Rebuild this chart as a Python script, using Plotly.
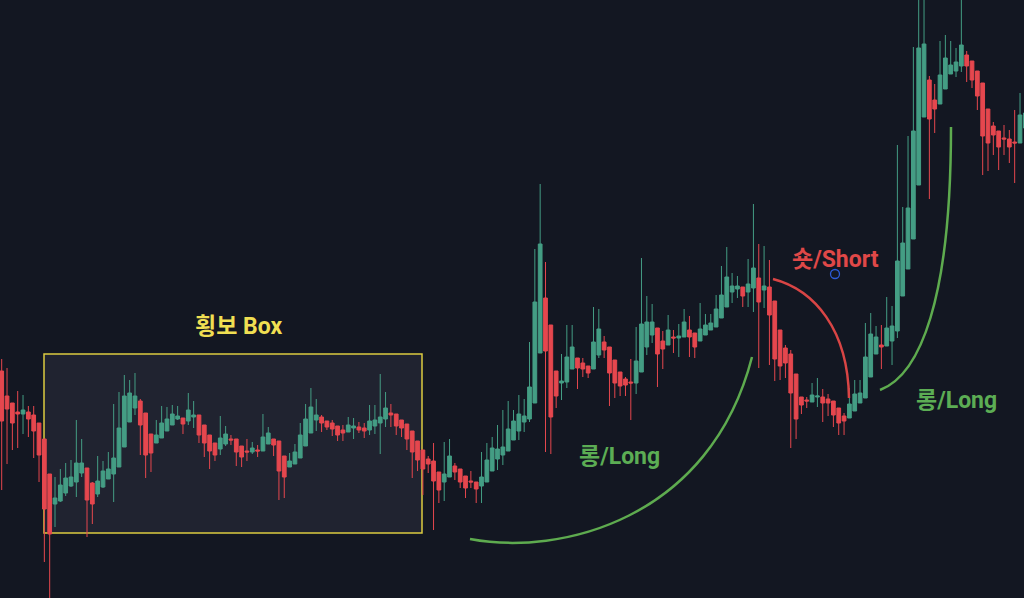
import plotly.graph_objects as go

# ---- data (price units) ----
open_ = [227,202,195,186,184,186,183,175,159,124,94,97,105,112,116,125,130,115,104,111,
         119,124,131,151,176,190,197,185,164,155,160,167,173,179,180,177,181,183,173,163,
         155,149,154,159,159,152,147,146,148,147,154,159,157,142,131,134,140,152,165,178,
         181,177,175,172,168,166,170,171,170,168,172,175,179,185,184,178,174,167,157,148,
         139,137,126,116,121,132,129,122,117,116,112,116,127,139,143,147,158,167,176,179,
         195,245,300,273,227,215,216,229,240,235,232,229,243,256,251,238,226,219,216,215,
         226,251,263,270,257,253,261,260,261,268,265,257,263,268,271,280,291,306,309,311,
         306,310,320,308,311,297,268,250,244,224,201,198,196,201,201,199,197,190,182,180,
         187,195,200,221,244,253,252,257,267,302,329,359,413,481,518,498,494,509,524,527,
         532,543,537,527,515,489,472,467,460,459,456,455,470]
high = [239,230,195,207,203,192,192,175,159,124,121,129,135,138,178,159,130,116,142,137,
        146,194,206,223,218,225,199,185,164,178,192,191,193,192,180,205,197,183,173,163,
        155,182,172,163,159,152,159,156,153,184,171,159,157,142,145,154,175,194,210,199,
        183,177,178,172,173,181,180,176,175,193,193,224,206,194,184,178,174,167,157,148,
        142,155,126,156,159,135,129,122,127,116,146,155,161,173,188,197,188,203,199,256,
        349,414,336,273,227,244,273,273,240,240,232,291,289,262,251,238,226,221,239,271,
        340,302,294,270,267,283,268,274,289,282,265,295,284,284,303,332,351,325,322,311,
        339,394,354,352,338,297,268,253,248,224,201,201,215,220,209,204,197,190,185,210,
        218,218,275,285,272,273,301,292,453,391,462,551,603,603,522,514,557,563,557,550,
        603,547,537,527,515,489,476,467,473,468,488,505,498]
low = [108,134,148,150,164,161,140,116,36,-2,71,96,102,111,101,121,61,74,101,110,
       119,96,131,151,176,183,143,120,126,155,160,167,173,178,164,173,170,155,141,129,
       137,143,152,153,132,131,137,144,141,147,154,142,98,100,131,134,140,152,165,167,
       166,168,162,157,157,166,159,165,160,163,164,144,171,171,163,161,148,120,127,103,
       125,68,95,97,121,118,110,100,110,95,95,116,127,128,133,147,158,158,166,176,
       195,245,146,144,190,198,210,229,209,221,220,229,240,240,192,200,202,202,178,204,
       226,243,255,211,229,253,245,241,261,241,240,257,263,268,271,280,291,295,300,291,
       291,286,230,290,233,217,218,220,150,159,184,190,196,191,176,182,171,163,163,180,
       187,195,200,221,244,229,252,233,260,302,329,359,413,481,399,465,494,509,524,521,
       526,516,510,488,423,427,443,428,443,435,415,455,463]
close = [177,189,175,184,188,179,167,143,89,64,100,113,120,121,135,135,98,94,117,127,
         129,140,170,202,205,202,173,143,145,163,175,179,184,182,174,188,183,163,155,147,
         143,160,164,158,146,141,146,150,147,161,165,153,127,121,137,146,163,179,191,183,
         175,171,169,163,165,173,172,168,167,177,178,181,190,183,172,170,159,146,138,129,
         134,117,108,124,142,126,116,110,116,109,121,138,150,149,151,169,177,184,182,211,
         296,354,247,181,202,217,241,251,230,229,225,256,269,248,225,215,212,213,215,237,
         274,276,276,244,249,268,260,262,276,261,251,269,273,275,289,303,321,312,312,302,
         314,330,296,312,283,239,232,235,205,179,193,197,203,202,195,195,183,175,177,194,
         204,205,241,264,261,251,270,272,337,355,390,467,550,554,479,489,523,540,533,536,
         553,532,518,502,462,455,463,451,459,451,455,483,485]
bars = list(range(len(open_)))

UP = "#449d84"
DOWN = "#e5474e"
BG = "#131722"

W, H = 1024, 598
STEP = 5.3314
X0 = 1.7


def px(x):
    return x / W


def py(y):
    return 1 - y / H


fig = go.Figure()
fig.add_trace(go.Candlestick(
    x=bars, open=open_, high=high, low=low, close=close,
    increasing=dict(line=dict(color=UP, width=1), fillcolor=UP),
    decreasing=dict(line=dict(color=DOWN, width=1), fillcolor=DOWN),
    whiskerwidth=0, hoverinfo="skip", showlegend=False,
))

shapes = [
    # sideways box
    dict(type="rect", xref="paper", yref="paper", x0=px(44), x1=px(422), y0=py(533), y1=py(354),
         line=dict(color="#dccb40", width=1.5), fillcolor="rgba(48,52,66,0.45)", layer="below"),
    # long curve 1
    dict(type="path", xref="paper", yref="paper",
         path=f"M {px(470)} {py(539)} C {px(560)} {py(556)}, {px(710)} {py(520)}, {px(752)} {py(357)}",
         line=dict(color="#5eab4f", width=2.5)),
    # short arc
    dict(type="path", xref="paper", yref="paper",
         path=f"M {px(773)} {py(279)} C {px(815)} {py(290)}, {px(848)} {py(330)}, {px(849)} {py(398)}",
         line=dict(color="#d94545", width=2.5)),
    # long curve 2
    dict(type="path", xref="paper", yref="paper",
         path=f"M {px(880)} {py(390)} C {px(920)} {py(375)}, {px(951)} {py(300)}, {px(951)} {py(127)}",
         line=dict(color="#5eab4f", width=2.5)),
    # blue marker circle
    dict(type="circle", xref="paper", yref="paper",
         x0=px(830.5), x1=px(839.5), y0=py(278.5), y1=py(269.5),
         line=dict(color="#2c5bd8", width=1.3)),
]

font_fam = "Roboto, Noto Sans CJK KR, sans-serif"
annotations = [
    dict(text="<b>횡보 Box</b>", x=px(238), y=py(326), xref="paper", yref="paper", showarrow=False,
         font=dict(family=font_fam, size=23, color="#f0df52"), xanchor="center", yanchor="middle"),
    dict(text="<b>롱/Long</b>", x=px(619), y=py(456), xref="paper", yref="paper", showarrow=False,
         font=dict(family=font_fam, size=23, color="#5cad54"), xanchor="center", yanchor="middle"),
    dict(text="<b>숏/Short</b>", x=px(835), y=py(260), xref="paper", yref="paper", showarrow=False,
         font=dict(family=font_fam, size=23, color="#e04848"), xanchor="center", yanchor="middle"),
    dict(text="<b>롱/Long</b>", x=px(956), y=py(400), xref="paper", yref="paper", showarrow=False,
         font=dict(family=font_fam, size=23, color="#5cad54"), xanchor="center", yanchor="middle"),
]

fig.update_layout(
    width=W, height=H,
    margin=dict(l=0, r=0, t=0, b=0),
    paper_bgcolor=BG, plot_bgcolor=BG,
    boxgap=0.3, boxgroupgap=0,
    shapes=shapes, annotations=annotations,
    xaxis=dict(range=[-X0 / STEP, (W - X0) / STEP], visible=False, showgrid=False,
               zeroline=False, rangeslider=dict(visible=False), fixedrange=True),
    yaxis=dict(range=[0, H], visible=False, showgrid=False, zeroline=False, fixedrange=True),
    showlegend=False,
)

fig.write_html(
    "out.html",
    config={"displayModeBar": False},
    post_script="document.body.style.margin='0';document.body.style.background='#131722';",
)
